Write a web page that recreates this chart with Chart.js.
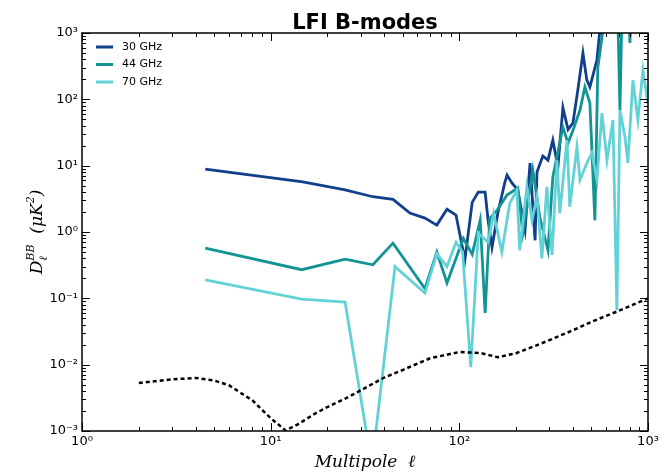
<!DOCTYPE html>
<html>
<head>
<meta charset="utf-8">
<script src="https://cdn.jsdelivr.net/npm/chart.js@4.4.0/dist/chart.umd.min.js"></script>
<style>
  html, body { margin: 0; padding: 0; background: #fff; }
  #wrap { width: 664px; height: 476px; }
</style>
</head>
<body>
<div id="wrap"><canvas id="bmodes" width="664" height="476"></canvas></div>
<script>
// multipole bins and D_ell^BB (uK^2) per channel
const ell30 = [4.5, 14.8, 24.8, 34.8, 44.5, 54.7, 65.7, 76, 86, 96, 107, 117, 126, 137, 142, 149, 160, 174, 179, 190,
  204, 223, 237, 252, 258, 277, 295, 313, 333, 354, 377, 400, 425, 452, 474, 492, 536, 556, 606, 652, 710, 802, 884, 998];
const d30 = [8.9, 5.7, 4.3, 3.4, 3.1, 1.93, 1.62, 1.27, 2.2, 1.8, 0.38, 2.8, 4.0, 4.0, 1.51, 0.59, 1.93, 5.5, 7.2, 5.5,
  4.3, 1.07, 10.9, 0.75, 8.0, 14, 12.1, 24.3, 9.5, 75, 35, 43.9, 140, 499, 195, 153, 392, 1100, 2500, 3000, 2000, 3000, 2500, 3000];

const ell44 = [4.5, 14.6, 24.8, 34.8, 44.5, 65.7, 76, 86, 105, 117, 129, 137, 145, 158, 179, 204, 217, 245, 267, 295,
  313, 354, 377, 400, 436, 463, 492, 523, 542, 577, 606, 652, 690, 710, 730, 790, 802, 815, 940, 998];
const d44 = [0.57, 0.27, 0.39, 0.32, 0.68, 0.14, 0.5, 0.17, 0.8, 0.46, 1.51, 0.06, 1.6, 2.1, 3.6, 4.6, 0.96, 8.6, 1.68, 0.53,
  6.7, 38, 21.9, 34, 69, 153, 88, 1.5, 300, 1100, 2000, 3000, 2500, 69, 3000, 2500, 706, 2500, 3000, 3000];

const ell70 = [4.5, 14.6, 24.8, 34.4, 45.6, 65.7, 76, 86, 96, 104, 115, 126, 142, 152, 168, 185, 202, 209, 228, 243,
  258, 274, 291, 310, 329, 341, 372, 385, 420, 436, 474, 504, 536, 570, 606, 652, 684, 710, 755, 782, 832, 884, 940, 998];
const d70 = [0.19, 0.097, 0.088, 0.0003, 0.30, 0.12, 0.47, 0.30, 0.7, 0.5, 0.0092, 0.96, 0.7, 1.9, 0.5, 2.7, 4.3, 0.53, 4.8, 1.51,
  3.4, 0.4, 4.8, 0.45, 12.1, 1.93, 24.3, 2.4, 19.1, 6.1, 10.9, 15.5, 6.1, 62, 12.1, 48.7, 0.066, 69, 27, 11, 195, 48.7, 277, 88];

// theory curve
const ellTheory = [2, 3, 4, 5, 6, 8, 10, 12, 14, 17, 20, 25, 30, 40, 50, 70, 100, 130, 160, 200, 250, 300, 400, 500, 700, 1000];
const dTheory = [0.0053, 0.006, 0.0063, 0.0058, 0.0049, 0.0029, 0.00156, 0.00102, 0.00127, 0.0018, 0.0023, 0.0031, 0.0041,
  0.0064, 0.0083, 0.0125, 0.0155, 0.015, 0.0129, 0.0149, 0.019, 0.0234, 0.033, 0.044, 0.065, 0.1];

const seriesNames = ['30 GHz', '44 GHz', '70 GHz'];
const seriesColors = ['#123f8c', '#139494', '#62d2d6'];

const xTickValues = [1, 10, 100, 1000];
const xTickLabels = ['10⁰', '10¹', '10²', '10³'];
const yTickValues = [1e-3, 1e-2, 1e-1, 1, 10, 100, 1000];
const yTickLabels = ['10⁻³', '10⁻²', '10⁻¹', '10⁰', '10¹', '10²', '10³'];

const pts = (xs, ys) => xs.map((v, i) => ({ x: v, y: ys[i] }));

// frame, inward ticks, legend, title and axis titles
const decorations = {
  id: 'decorations',
  afterDraw(chart) {
    const { ctx, chartArea: a, scales: { x, y } } = chart;
    ctx.save();
    ctx.strokeStyle = '#000';
    ctx.lineWidth = 1;
    ctx.beginPath();
    for (let e = 0; e <= 3; e++) {
      for (let m = 1; m <= 9; m++) {
        const v = m * Math.pow(10, e);
        if (v > 1000) break;
        const px = Math.round(x.getPixelForValue(v)) + 0.5;
        const len = m === 1 ? 8 : 4;
        ctx.moveTo(px, a.bottom); ctx.lineTo(px, a.bottom - len);
        ctx.moveTo(px, a.top); ctx.lineTo(px, a.top + len);
      }
    }
    for (let e = -3; e <= 3; e++) {
      for (let m = 1; m <= 9; m++) {
        const v = m * Math.pow(10, e);
        if (v > 1000) break;
        const py = Math.round(y.getPixelForValue(v)) + 0.5;
        const len = m === 1 ? 8 : 4;
        ctx.moveTo(a.left, py); ctx.lineTo(a.left + len, py);
        ctx.moveTo(a.right, py); ctx.lineTo(a.right - len, py);
      }
    }
    ctx.stroke();
    ctx.lineWidth = 1.5;
    ctx.strokeRect(a.left, a.top, a.width, a.height);

    // legend inside the axes
    ctx.font = '11px "DejaVu Sans"';
    ctx.textBaseline = 'middle';
    ctx.textAlign = 'left';
    seriesNames.forEach((name, i) => {
      const ly = 47 + i * 17.5;
      ctx.strokeStyle = seriesColors[i];
      ctx.lineWidth = 3;
      ctx.beginPath();
      ctx.moveTo(96, ly); ctx.lineTo(113, ly);
      ctx.stroke();
      ctx.fillStyle = '#000';
      ctx.fillText(name, 122, ly);
    });

    // title
    ctx.fillStyle = '#000';
    ctx.textAlign = 'center';
    ctx.textBaseline = 'alphabetic';
    ctx.font = 'bold 21px "DejaVu Sans"';
    ctx.fillText('LFI B-modes', (a.left + a.right) / 2, 29);

    // x axis title
    ctx.font = 'italic 17px "DejaVu Serif"';
    ctx.fillText('Multipole  ℓ', (a.left + a.right) / 2, 467);

    // y axis title: D_ell^BB (uK^2)
    ctx.translate(42, 232);
    ctx.rotate(-Math.PI / 2);
    const big = 'italic 17px "DejaVu Serif"';
    const small = 'italic 11px "DejaVu Serif"';
    ctx.font = big; const wD = ctx.measureText('D').width;
    const wOpen = ctx.measureText('  (μK').width;
    const wClose = ctx.measureText(')').width;
    ctx.font = small; const wBB = ctx.measureText('BB').width;
    const w2 = ctx.measureText('2').width;
    const total = wD + wBB + wOpen + w2 + wClose;
    let cx = -total / 2;
    ctx.textAlign = 'left';
    ctx.font = big; ctx.fillText('D', cx, 0); cx += wD;
    ctx.font = small; ctx.fillText('BB', cx, -8); ctx.fillText('ℓ', cx, 5); cx += wBB;
    ctx.font = big; ctx.fillText('  (μK', cx, 0); cx += wOpen;
    ctx.font = small; ctx.fillText('2', cx, -8); cx += w2;
    ctx.font = big; ctx.fillText(')', cx, 0);
    ctx.restore();
  }
};

const ctx = document.getElementById('bmodes').getContext('2d');
new Chart(ctx, {
  type: 'line',
  data: {
    datasets: [
      { label: seriesNames[0], data: pts(ell30, d30), borderColor: seriesColors[0], borderWidth: 2.8, order: 3 },
      { label: seriesNames[1], data: pts(ell44, d44), borderColor: seriesColors[1], borderWidth: 2.8, order: 2 },
      { label: seriesNames[2], data: pts(ell70, d70), borderColor: seriesColors[2], borderWidth: 2.8, order: 1 },
      { label: 'theory', data: pts(ellTheory, dTheory), borderColor: '#000', borderWidth: 2.5, borderDash: [4, 3], order: 0 }
    ]
  },
  options: {
    responsive: false,
    animation: false,
    events: [],
    layout: { padding: { top: 33, right: 16, bottom: 0, left: 0 } },
    elements: { point: { radius: 0 }, line: { tension: 0, fill: false } },
    datasets: { line: { clip: 0 } },
    plugins: { legend: { display: false }, title: { display: false }, tooltip: { enabled: false } },
    scales: {
      x: {
        type: 'logarithmic', min: 1, max: 1000,
        afterBuildTicks: s => { s.ticks = xTickValues.map(v => ({ value: v })); },
        afterFit: s => { s.height = 45; },
        grid: { display: false, drawTicks: false },
        border: { display: false },
        ticks: {
          autoSkip: false, maxRotation: 0, padding: 3, color: '#000',
          font: { family: 'DejaVu Sans', size: 13 },
          callback: (v, i) => xTickLabels[i]
        }
      },
      y: {
        type: 'logarithmic', min: 1e-3, max: 1000,
        afterBuildTicks: s => { s.ticks = yTickValues.map(v => ({ value: v })); },
        afterFit: s => { s.width = 82; },
        grid: { display: false, drawTicks: false },
        border: { display: false },
        ticks: {
          autoSkip: false, padding: 4, color: '#000',
          font: { family: 'DejaVu Sans', size: 13 },
          callback: (v, i) => yTickLabels[i]
        }
      }
    }
  },
  plugins: [decorations]
});
</script>
</body>
</html>
